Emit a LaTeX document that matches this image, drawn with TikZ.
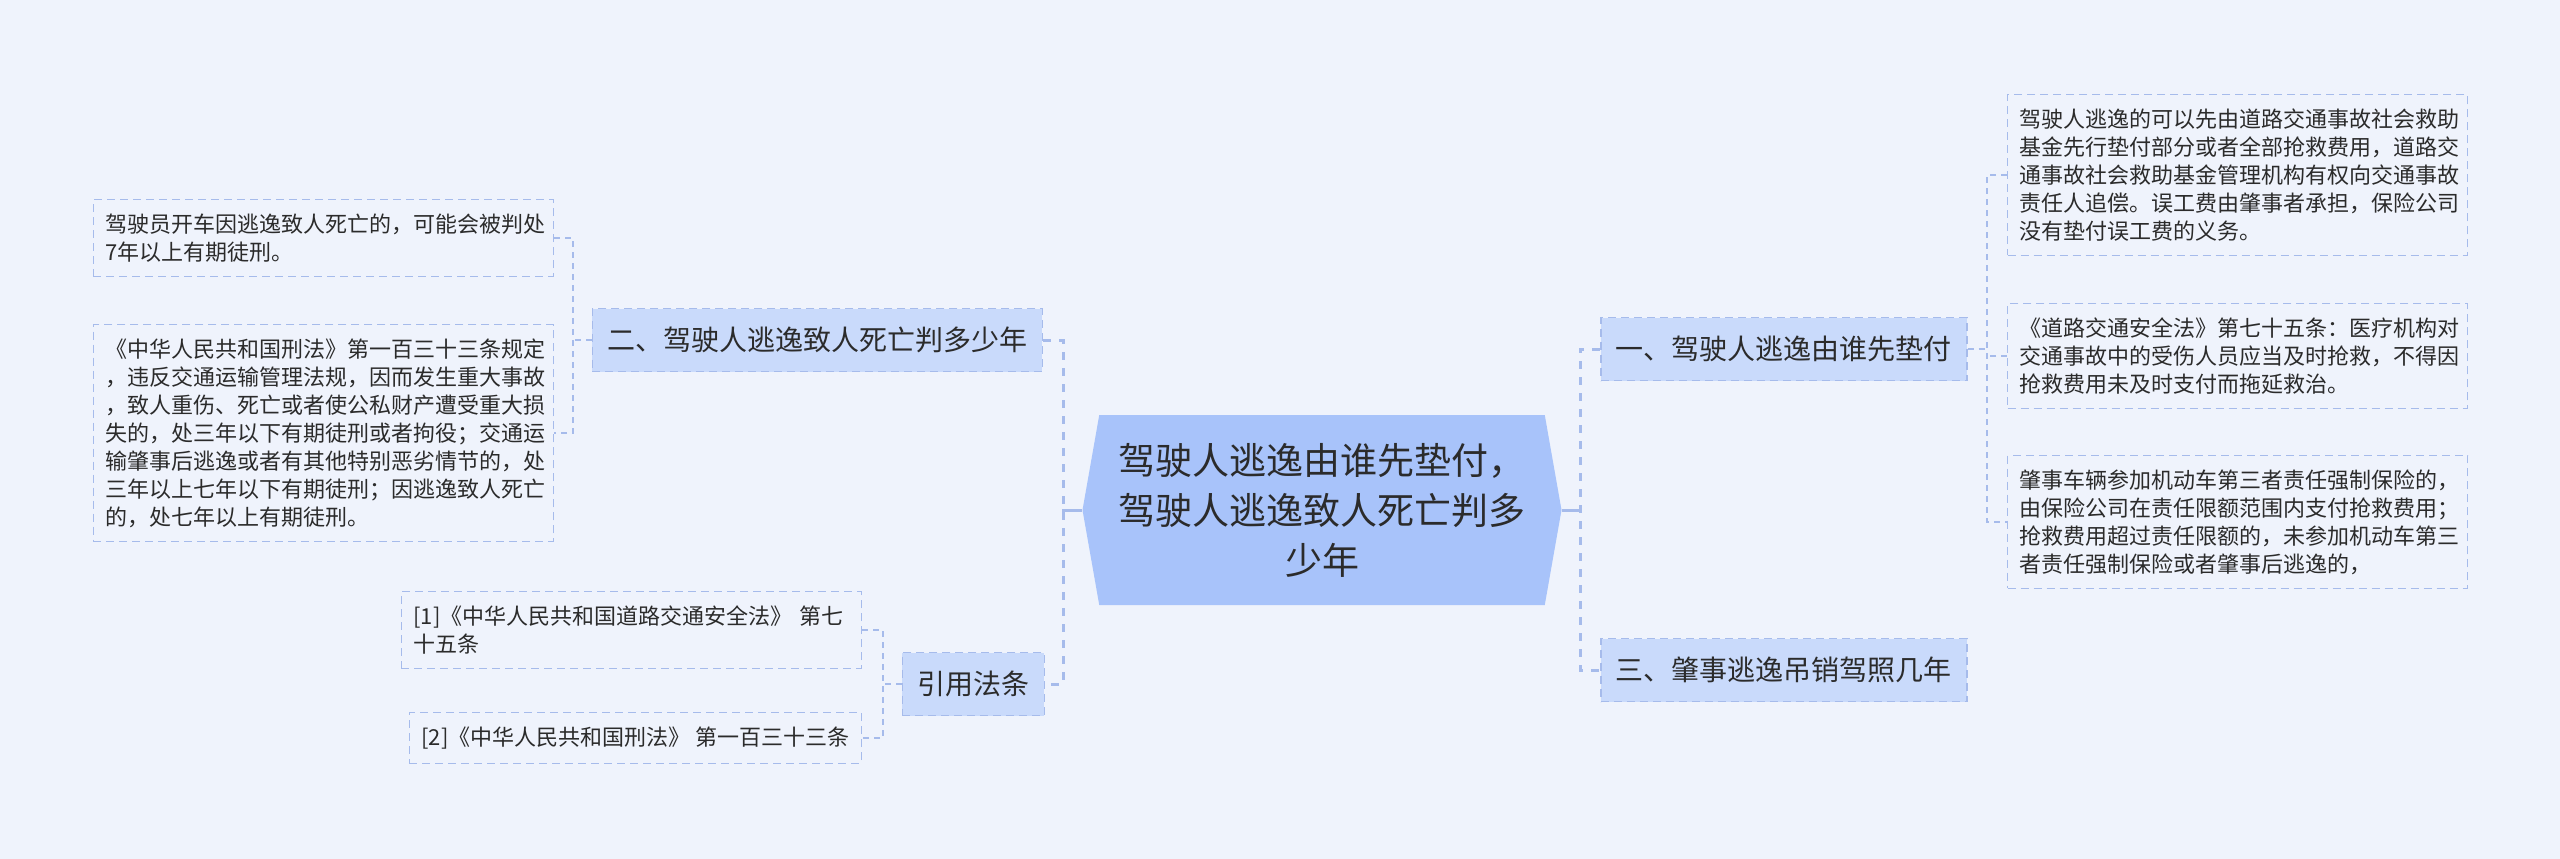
\documentclass[tikz,border=0pt]{standalone}
\usepackage{fontspec}
\newfontfamily\cjk{Noto Sans CJK SC}
\usepackage{tikz}
\usetikzlibrary{shapes.symbols}
\definecolor{bgblue}{HTML}{EFF3FC}
\definecolor{rootblue}{HTML}{A8C3FA}
\definecolor{branchblue}{HTML}{C9DAFB}
\definecolor{lineblue}{HTML}{A6BBEB}
\definecolor{inkgray}{HTML}{2B2B2B}

\begin{document}
\begin{tikzpicture}[x=1pt,y=-1pt,
  root/.style={shape=signal,signal to=east and west,signal pointer angle=160,
               fill=rootblue,minimum width=479pt,minimum height=190pt,align=center,
               inner sep=0pt,text=inkgray,font=\cjk\fontsize{37}{50}\selectfont},
  branch/.style={draw=lineblue,fill=branchblue,line width=1.5pt,dash pattern=on 8pt off 5pt,
                 minimum height=63pt,inner xsep=15pt,text=inkgray,
                 font=\cjk\fontsize{28}{34}\selectfont},
  leaf/.style={draw=lineblue,line width=1.2pt,dash pattern=on 8pt off 5pt,
               inner xsep=12pt,inner ysep=14pt,align=left,text width=436pt,text=inkgray,
               font=\cjk\fontsize{22}{28}\selectfont},
  spine/.style={draw=lineblue,line width=3pt,dash pattern=on 8pt off 8pt},
  twig/.style={draw=lineblue,line width=2pt,dash pattern=on 6pt off 5pt}]
\fill[bgblue] (0,0) rectangle (2560,859);
\useasboundingbox (0,0) rectangle (2560,859);
% centre
\node[root] (root) at (1322,510) {驾驶人逃逸由谁先垫付，\\驾驶人逃逸致人死亡判多\\少年};
% branches
\node[branch,anchor=west] (b1) at (1600,349) {一、驾驶人逃逸由谁先垫付};
\node[branch,anchor=east] (b2) at (1043,340) {二、驾驶人逃逸致人死亡判多少年};
\node[branch,anchor=west] (b3) at (1600,670) {三、肇事逃逸吊销驾照几年};
\node[branch,anchor=east] (b4) at (1045,684) {引用法条};
% leaves of b1
\node[leaf,anchor=west] (r1) at (2007,175) {驾驶人逃逸的可以先由道路交通事故社会救助\\基金先行垫付部分或者全部抢救费用，道路交\\通事故社会救助基金管理机构有权向交通事故\\责任人追偿。误工费由肇事者承担，保险公司\\没有垫付误工费的义务。};
\node[leaf,anchor=west] (r2) at (2007,356) {《道路交通安全法》第七十五条：医疗机构对\\交通事故中的受伤人员应当及时抢救，不得因\\抢救费用未及时支付而拖延救治。};
\node[leaf,anchor=west] (r3) at (2007,522) {肇事车辆参加机动车第三者责任强制保险的，\\由保险公司在责任限额范围内支付抢救费用；\\抢救费用超过责任限额的，未参加机动车第三\\者责任强制保险或者肇事后逃逸的，};
% leaves of b2
\node[leaf,anchor=east] (n1) at (554,238) {驾驶员开车因逃逸致人死亡的，可能会被判处\\7年以上有期徒刑。};
\node[leaf,anchor=east] (n2) at (554,433) {《中华人民共和国刑法》第一百三十三条规定\\，违反交通运输管理法规，因而发生重大事故\\，致人重伤、死亡或者使公私财产遭受重大损\\失的，处三年以下有期徒刑或者拘役；交通运\\输肇事后逃逸或者有其他特别恶劣情节的，处\\三年以上七年以下有期徒刑；因逃逸致人死亡\\的，处七年以上有期徒刑。};
% leaves of b4
\node[leaf,anchor=east] (c1) at (862,630) {[1]《中华人民共和国道路交通安全法》 第七\\十五条};
\node[leaf,anchor=east,text width=,minimum width=449pt] (c2) at (862,738) {[2]《中华人民共和国刑法》 第一百三十三条};
% connectors
\draw[draw=lineblue,line width=3pt] (root.east) -- ++(18,0);
\draw[draw=lineblue,line width=3pt] (root.west) -- ++(-20,0);
\draw[spine] (b1.west) -- ++(-20,0) |- (b3.west);
\draw[spine] (b2.east) -- ++(20,0) |- (b4.east);
\draw[twig] (b1.east) -- ++(20,0);
\draw[twig] (r1.west) -- ++(-20,0) |- (r3.west);
\draw[twig] (r2.west) -- ++(-20,0);
\draw[twig] (b2.west) -- ++(-20,0);
\draw[twig] (n1.east) -- ++(19,0) |- (n2.east);
\draw[twig] (b4.west) -- ++(-20,0);
\draw[twig] (c1.east) -- ++(21,0) |- (c2.east);
\end{tikzpicture}
\end{document}
